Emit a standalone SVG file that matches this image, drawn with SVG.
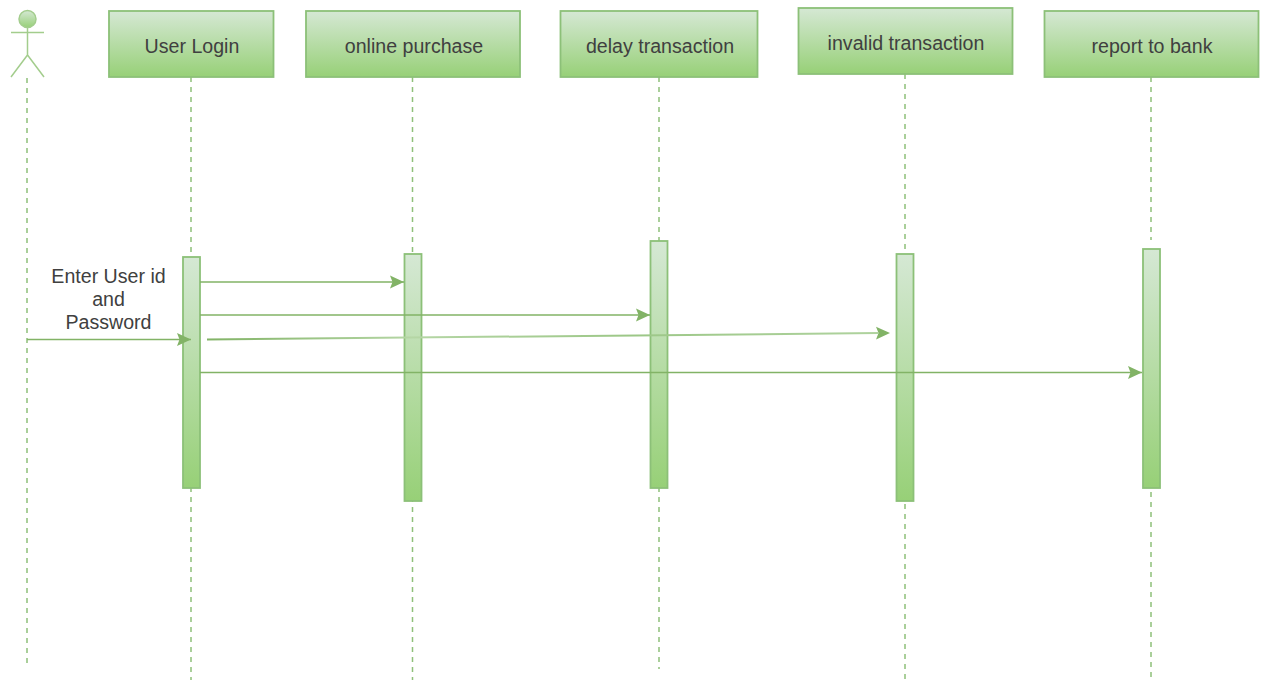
<svg xmlns="http://www.w3.org/2000/svg" width="1264" height="681" viewBox="0 0 1264 681">
<defs>
<linearGradient id="g" x1="0" y1="0" x2="0" y2="1"><stop offset="0" stop-color="#d5e8d4"/><stop offset="1" stop-color="#97d077"/></linearGradient>
<linearGradient id="fade" gradientUnits="userSpaceOnUse" x1="207" y1="0" x2="890" y2="0"><stop offset="0" stop-color="#82b366"/><stop offset="0.3" stop-color="#b5d6a5"/><stop offset="0.62" stop-color="#9cc787"/><stop offset="1" stop-color="#b0d39f"/></linearGradient>
<marker id="a" viewBox="0 0 14 14" refX="14" refY="7" markerWidth="14" markerHeight="14" markerUnits="userSpaceOnUse" orient="auto"><path d="M0 0.500L14 7L0 13.500L2.500 7Z" fill="#82b366"/></marker>
</defs>
<style>
.box{fill:url(#g);stroke:#8cc078;stroke-width:1.8}
.ll{fill:none;stroke:#8fc07a;stroke-width:1.5;stroke-dasharray:5 5}
.m{fill:none;stroke:#82b366;stroke-width:1.6;marker-end:url(#a)}
.st{fill:none;stroke:#a3cd8d;stroke-width:1.5}
text{font-family:"Liberation Sans",Arial,sans-serif;font-size:19.600px;fill:#404040;text-anchor:middle}
</style>
<rect width="1264" height="681" fill="#fff"/>
<g id="lifelines">
<path class="ll" d="M27 78V664"/>
<path class="ll" d="M191 77V680"/>
<path class="ll" d="M412.500 77V680"/>
<path class="ll" d="M659 77V669"/>
<path class="ll" d="M905 74V680"/>
<path class="ll" d="M1151 77V240M1151 492V680"/>
</g>
<g id="actor">
<circle cx="27.500" cy="19" r="8.500" fill="url(#g)" stroke="#a3cd8d" stroke-width="1.500"/>
<path class="st" d="M27.500 27.500V55M11 32.500H44M27.500 55L11 77M27.500 55L44 77"/>
</g>
<g id="user-login"><rect class="box" x="109" y="11" width="164.500" height="66"/><text x="192" y="53">User Login</text></g>
<g id="online-purchase"><rect class="box" x="306" y="11" width="214" height="66"/><text x="414" y="53">online purchase</text></g>
<g id="delay-transaction"><rect class="box" x="560.500" y="11" width="197" height="66"/><text x="660" y="53">delay transaction</text></g>
<g id="invalid-transaction"><rect class="box" x="798.500" y="8" width="214" height="66"/><text x="906" y="49.500">invalid transaction</text></g>
<g id="report-to-bank"><rect class="box" x="1044.500" y="11" width="214" height="66"/><text x="1152" y="53">report to bank</text></g>
<g id="activation-login"><rect class="box" x="183" y="257" width="17" height="231"/></g>
<g id="activation-purchase"><rect class="box" x="404.500" y="254" width="17" height="247"/></g>
<g id="activation-delay"><rect class="box" x="650.500" y="241" width="17" height="247"/></g>
<g id="activation-invalid"><rect class="box" x="896.500" y="254" width="17" height="247"/></g>
<g id="activation-report"><rect class="box" x="1143" y="249" width="17" height="239"/></g>
<g id="connectors">
<path class="m" d="M27 339.500H191"/>
<path class="m" d="M200 282H404"/>
<path class="m" d="M200 315H650"/>
<path d="M207 339.500L878 333.100" fill="none" stroke="url(#fade)" stroke-width="2"/>
<path class="m" style="stroke:none" d="M877 333.100L890 333"/>
<path class="m" d="M200 372.500H1142"/>
</g>
<g id="message-label"><text x="108.500" y="283">Enter User id</text><text x="108.500" y="306">and</text><text x="108.500" y="329">Password</text></g>
</svg>
